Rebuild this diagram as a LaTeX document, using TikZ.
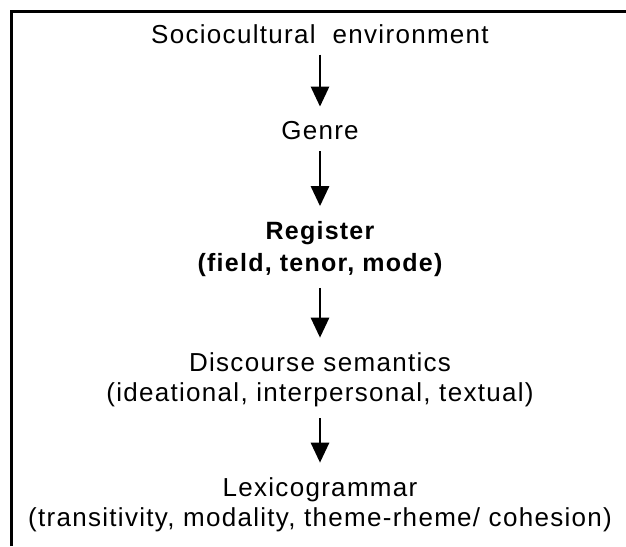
\documentclass[tikz,border=0pt]{standalone}
\usepackage{fontspec}
\setmainfont{Liberation Sans}[LetterSpace=5]
\usetikzlibrary{positioning, arrows.meta}

\begin{document}
\begin{tikzpicture} [x=1pt, y=-1pt,
                on grid,
                level/.style = {font=\fontsize{26}{30}\selectfont,
                    align=center, inner sep=0pt},
                flow/.style = {-{Triangle[width=18pt, length=20pt]},
                    line width=2.8pt, shorten <=11pt, shorten >=15pt}]

            \useasboundingbox (0,0) rectangle (626,546);

            % Frame (open at right and bottom)
            \draw [line width=3pt] (11.5,546) -- (11.5,11.5) -- (626,11.5);

            % Sociocultural environment
            \node (soc) [level] at (320,34) {Sociocultural\ \ environment};

            % Genre
            \node (genre) [level,
                below = 97pt of soc] {Genre};

            % Register
            \node (register) [level, font=\fontsize{25}{32}\bfseries,
                below = 118pt of genre] {Register\\(field, tenor, mode)};

            % Discourse semantics
            \node (discourse) [level,
                below = 131pt of register] {Discourse semantics\\(ideational, interpersonal, textual)};

            % Lexicogrammar
            \node (lexico) [level,
                below = 125pt of discourse] {Lexicogrammar\\(transitivity, modality, theme-rheme/ cohesion)};

            % Arrows
            \draw [flow] (soc) -- (genre);
            \draw [flow] (genre) -- (register);
            \draw [flow] (register) -- (discourse);
            \draw [flow] (discourse) -- (lexico);
\end{tikzpicture}
\end{document}
